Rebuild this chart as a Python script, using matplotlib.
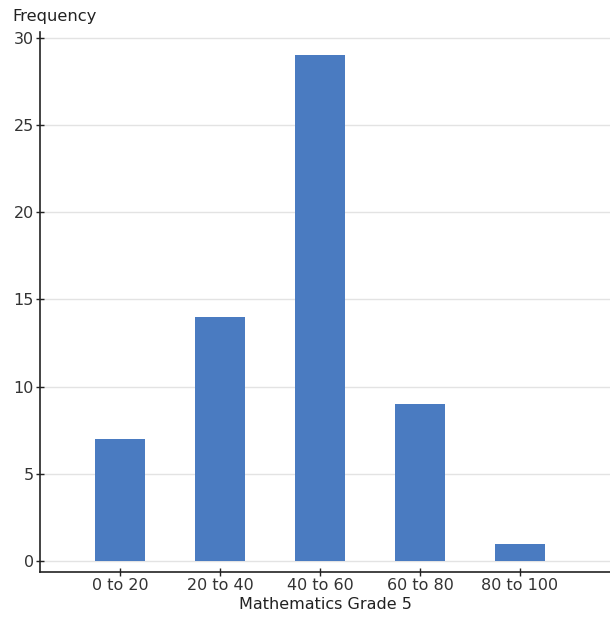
import matplotlib
matplotlib.use("Agg")
import matplotlib.pyplot as plt

categories = ["0 to 20", "20 to 40", "40 to 60", "60 to 80", "80 to 100"]
frequency = [7, 14, 29, 9, 1]
yticks = [0, 5, 10, 15, 20, 25, 30]

W, H = 610, 618
fig = plt.figure(figsize=(W/100, H/100), dpi=100)
ax = fig.add_axes([40/W, (H-572)/H, (W-40)/W, (572-32)/H])

x = list(range(len(categories)))
ax.bar(x, frequency, width=0.5, color="#4a7bc1", zorder=3)
ax.set_xlim(-0.8, 4.9)
ax.set_ylim(-0.63, 30.34)
ax.set_yticks(yticks)
ax.set_xticks(x)
ax.set_xticklabels(categories)
ax.grid(axis="y", color="#e3e3e3", linewidth=1, zorder=0)
for s in ["top", "right"]:
    ax.spines[s].set_visible(False)
for s in ["left", "bottom"]:
    ax.spines[s].set_color("#222222")
    ax.spines[s].set_linewidth(1.2)
ax.tick_params(axis="both", direction="inout", length=6, width=1, color="#222222",
               labelsize=11.5, labelcolor="#333333", pad=1.5)
ax.set_xlabel("Mathematics Grade 5", fontsize=11.5, color="#222222", labelpad=3)
fig.text(12/W, 1-17/H, "Frequency", fontsize=11.8, color="#222222", va="center", ha="left")

fig.savefig("out.png", dpi=100)
